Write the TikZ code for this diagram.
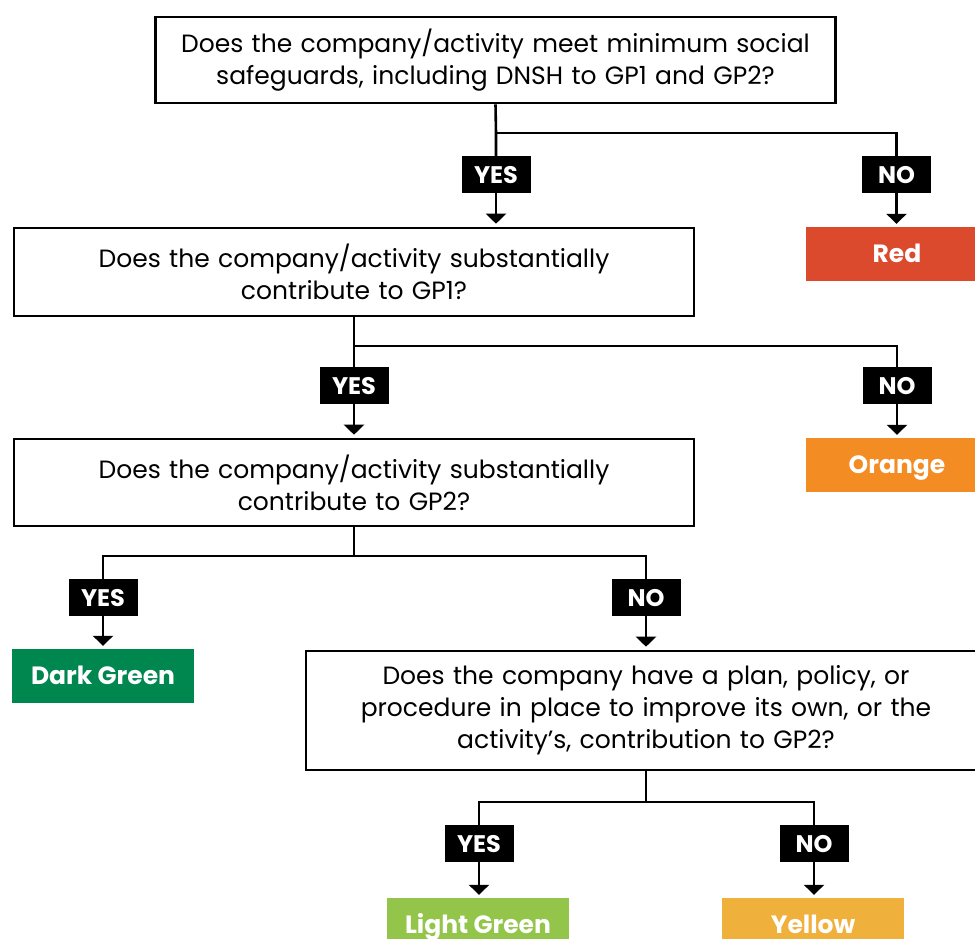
\documentclass[tikz,border=0pt]{standalone}
\usepackage{fontspec}
\setmainfont{Poppins}
\usetikzlibrary{arrows.meta}
\definecolor{cred}{HTML}{DC4A2D}
\definecolor{corange}{HTML}{F28C23}
\definecolor{cdgreen}{HTML}{00874F}
\definecolor{clgreen}{HTML}{93C54B}
\definecolor{cyellow}{HTML}{F0B03C}
\begin{document}
\begin{tikzpicture}[x=1pt,y=-1pt,
  qbox/.style={draw=black,line width=2.6pt,minimum width=680pt,inner sep=0pt,
    align=center,text width=670pt,font=\fontsize{25}{32}\selectfont},
  lab/.style={fill=black,text=white,font=\bfseries\fontsize{24}{24}\selectfont,
    minimum width=69pt,minimum height=37pt,inner sep=0pt,text height=17pt,text depth=0pt},
  outc/.style={fill=#1,text=white,font=\bfseries\fontsize{25}{25}\selectfont,
    minimum width=182pt,minimum height=54pt,inner sep=0pt,text height=17.5pt,text depth=0pt},
  conn/.style={line width=2.6pt},
  arr/.style={conn,-{Triangle[width=20pt,length=10pt]},shorten >=3pt}]
\useasboundingbox (0,0) rectangle (975,938);
\clip (0,0) rectangle (975,938);
% questions
\node[qbox,minimum height=86pt] (q1) at (495.5,60) {Does the company/activity meet minimum social\\safeguards, including DNSH to GP1 and GP2?};
\node[qbox,minimum height=88pt] (q2) at (354,272) {Does the company/activity substantially\\contribute to GP1?};
\node[qbox,minimum height=87pt] (q3) at (354,482.5) {Does the company/activity substantially\\contribute to GP2?};
\node[qbox,minimum height=119pt] (q4) at (646,710.5) {Does the company have a plan, policy, or\\procedure in place to improve its own, or the\\activity’s, contribution to GP2?};
% outcomes
\node[outc=cred] (red) at (897,254) {Red};
\node[outc=corange] (orange) at (897,465) {Orange};
\node[outc=cdgreen] (dgreen) at (103,676) {Dark Green};
\node[outc=clgreen] (lgreen) at (478,925) {Light Green};
\node[outc=cyellow] (yellow) at (813,925) {Yellow};
% labels
\node[lab] (y1) at (496,174.5) {YES};
\node[lab] (n1) at (896.5,174.5) {NO};
\node[lab] (y2) at (354,385.5) {YES};
\node[lab] (n2) at (897,385.5) {NO};
\node[lab] (y3) at (103,597.5) {YES};
\node[lab] (n3) at (646,597.5) {NO};
\node[lab] (y4) at (479,843.5) {YES};
\node[lab] (n4) at (814,843.5) {NO};
% branch points
\coordinate (b1) at (496,133);
\coordinate (b2) at (354,346);
\coordinate (b3) at (354,556);
\coordinate (b4) at (646,802);
% connectors
\draw[conn] (q1.south) -- (b1) -- (y1.north);
\draw[conn] (b1) -| (n1.north);
\draw[arr] (y1.south) -- (y1.south |- q2.north);
\draw[arr] (n1.south) -- (n1.south |- red.north);
\draw[conn] (q2.south) -- (b2) -- (y2.north);
\draw[conn] (b2) -| (n2.north);
\draw[arr] (y2.south) -- (q3.north);
\draw[arr] (n2.south) -- (orange.north);
\draw[conn] (q3.south) -- (b3);
\draw[conn] (b3) -| (y3.north);
\draw[conn] (b3) -| (n3.north);
\draw[arr] (y3.south) -- (dgreen.north);
\draw[arr] (n3.south) -- (q4.north);
\draw[conn] (q4.south) -- (b4);
\draw[conn] (b4) -| (y4.north);
\draw[conn] (b4) -| (n4.north);
\draw[arr] (y4.south) -- (y4.south |- lgreen.north);
\draw[arr] (n4.south) -- (n4.south |- yellow.north);
\end{tikzpicture}
\end{document}
